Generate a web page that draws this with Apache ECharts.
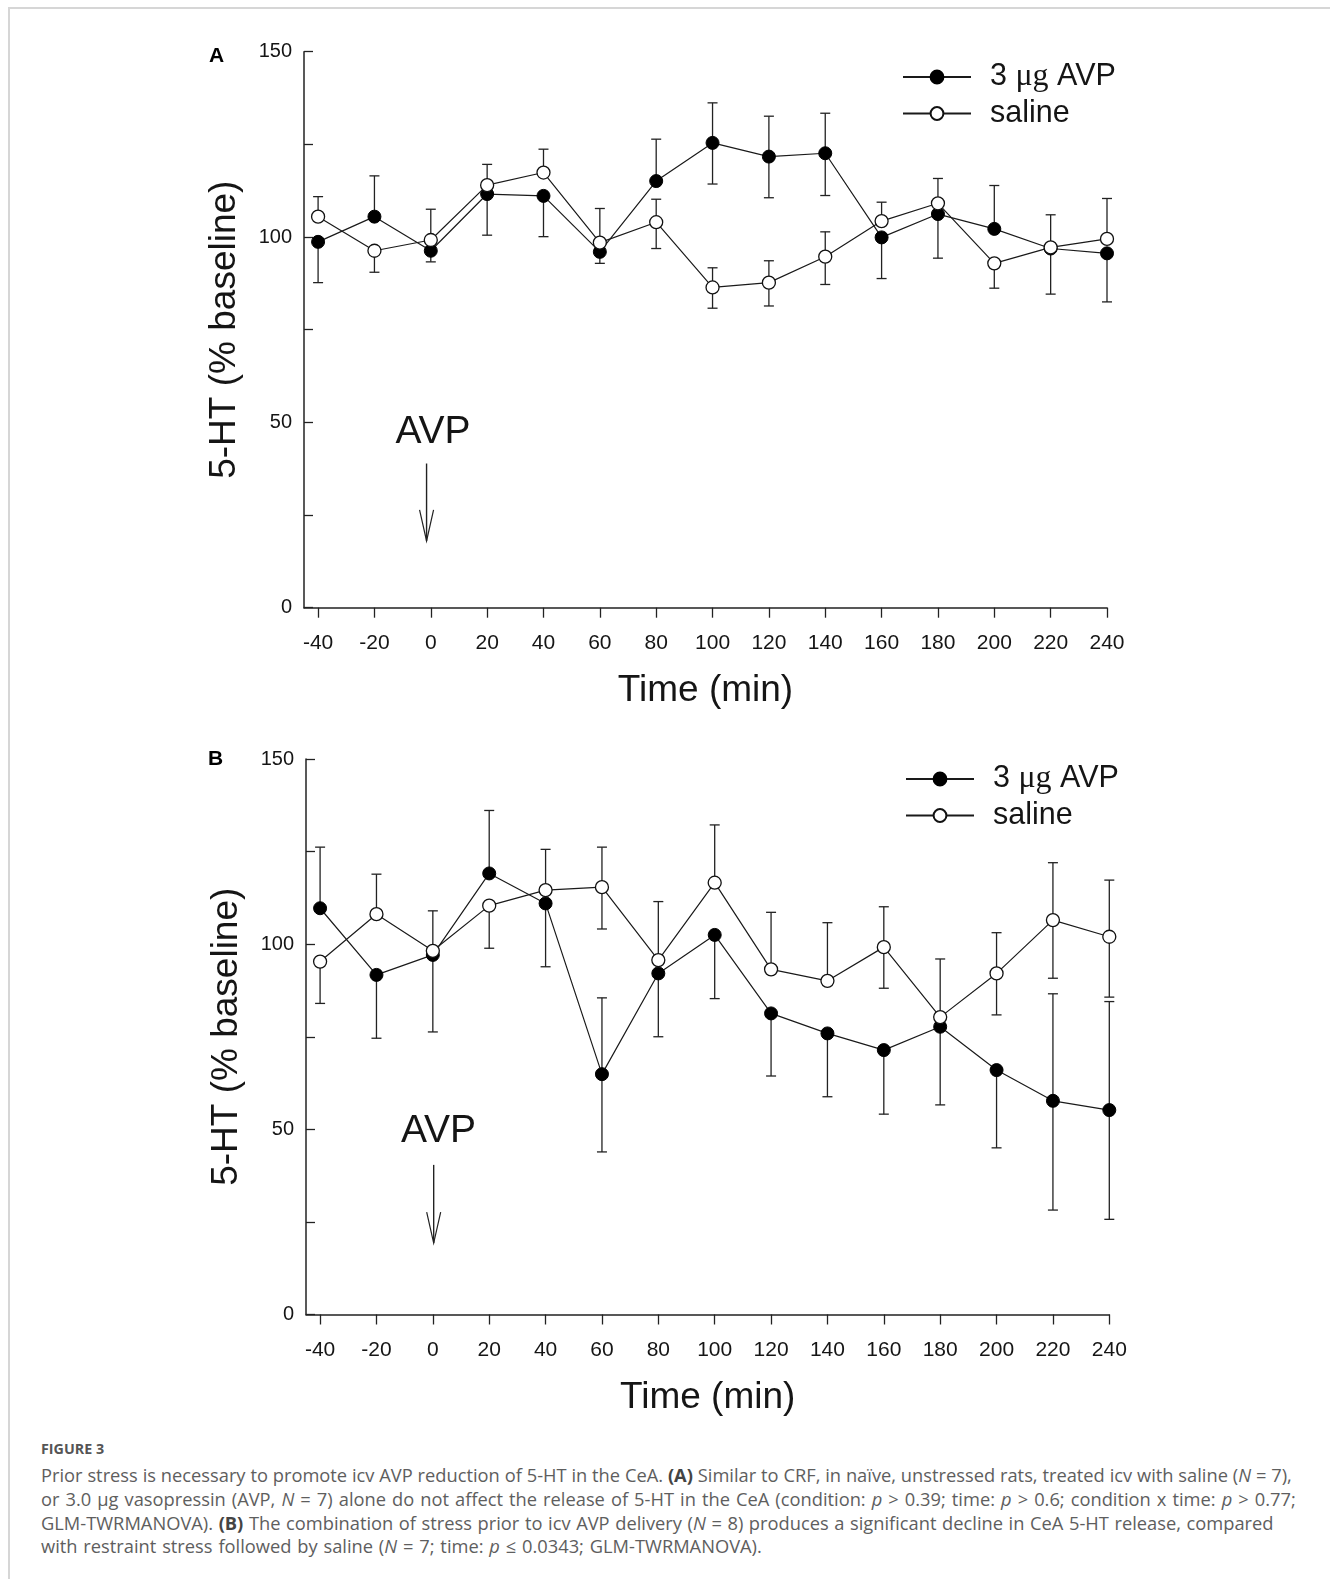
<!DOCTYPE html>
<html><head><meta charset="utf-8">
<script src="https://cdn.jsdelivr.net/npm/echarts@6/dist/echarts.min.js"></script>
<style>
html,body{margin:0;padding:0;background:#fff;}
#frame{position:absolute;left:8px;top:7px;width:1322px;height:1572px;border-top:2px solid #d6d6d6;border-left:2px solid #d6d6d6;box-sizing:border-box;}
#chart{position:absolute;left:0;top:0;width:1330px;height:1420px;}
#figlabel{position:absolute;left:41px;top:1439px;font-family:"Open Sans";font-weight:700;font-size:14.3px;line-height:20px;color:#555;}
#lines{position:absolute;left:41px;top:1463px;font-family:"Open Sans";font-size:18.3px;line-height:23.8px;color:#5e5e5e;white-space:nowrap;}
#lines b{color:#444;}
</style></head>
<body>
<div id="frame"></div>
<div id="chart"></div>
<div id="figlabel">FIGURE 3</div>
<div id="lines">
<div style="word-spacing:0.1px">Prior stress is necessary to promote icv AVP reduction of 5-HT in the CeA. <b>(A)</b> Similar to CRF, in naïve, unstressed rats, treated icv with saline (<i>N</i> = 7),</div>
<div style="word-spacing:1.3px">or 3.0 μg vasopressin (AVP, <i>N</i> = 7) alone do not affect the release of 5-HT in the CeA (condition: <i>p</i> &gt; 0.39; time: <i>p</i> &gt; 0.6; condition x time: <i>p</i> &gt; 0.77;</div>
<div style="word-spacing:0.85px">GLM-TWRMANOVA). <b>(B)</b> The combination of stress prior to icv AVP delivery (<i>N</i> = 8) produces a significant decline in CeA 5-HT release, compared</div>
<div style="word-spacing:1.1px">with restraint stress followed by saline (<i>N</i> = 7; time: <i>p</i> ≤ 0.0343; GLM-TWRMANOVA).</div>
</div>
<script>
// ---- data ----
const timePoints = [-40,-20,0,20,40,60,80,100,120,140,160,180,200,220,240];
const xTickLabels = [-40,-20,0,20,40,60,80,100,120,140,160,180,200,220,240];
const yTickLabels = [0,50,100,150];
const seriesNames = ['3 μg AVP','saline'];

// Panel A
const A_avp         = [98.7,105.5,96.3,111.6,111.1,96.0,115.1,125.4,121.7,122.6,99.9,106.2,102.2,96.9,95.6];
const A_avp_errUp   = [0,11.0,0,0,0,0,11.3,10.8,10.9,10.8,0,0,11.7,0,0];
const A_avp_errDown = [11.0,0,3.0,11.1,11.0,3.1,0,11.1,11.1,11.4,11.1,11.9,0,12.3,13.1];
const A_sal         = [105.5,96.3,99.2,114.0,117.4,98.5,104.0,86.4,87.7,94.7,104.3,109.1,92.9,97.2,99.5];
const A_sal_errUp   = [5.4,0,8.3,5.6,6.3,9.2,6.2,5.3,5.9,6.7,5.1,6.7,0,8.8,10.9];
const A_sal_errDown = [0,5.8,0,0,0,0,7.1,5.6,6.3,7.5,0,0,6.7,0,0];

// Panel B
const B_avp         = [109.7,91.7,97.1,119.1,111.0,64.9,92.1,102.5,81.3,75.9,71.4,77.7,66.0,57.7,55.2];
const B_avp_errUp   = [16.5,0,0,17.0,0,20.6,0,0,0,0,0,0,0,28.9,29.3];
const B_avp_errDown = [0,17.1,20.8,0,17.1,21.0,17.1,17.2,16.9,17.1,17.3,21.1,21.0,29.5,29.5];
const B_sal         = [95.3,108.1,98.2,110.4,114.6,115.4,95.7,116.6,93.2,90.1,99.2,80.3,92.1,106.5,102.0];
const B_sal_errUp   = [0,10.8,10.8,0,11.0,10.8,15.8,15.6,15.4,15.7,10.9,15.7,11.0,15.5,15.3];
const B_sal_errDown = [11.3,0,0,11.5,0,11.3,0,0,0,0,11.1,0,11.2,15.7,16.3];

// AVP annotation: [textX, textY, arrowX, arrowTopY, arrowTipY]
const A_annot = [0.8, 47.3, -1.5, 38.9, 18.0];
const B_annot = [2.0, 49.4, 0.3, 40.4, 19.3];

// ---- chart ----
const FONT = 'Liberation Sans, Arial, sans-serif';
const INK = '#151515';
const chart = echarts.init(document.getElementById('chart'), null, {renderer:'canvas'});

function pts(vals){ return timePoints.map((t,i)=>[t, vals[i]]); }
function errPts(vals, up, down){ return timePoints.map((t,i)=>[t, vals[i], up[i], down[i]]); }

function errRender(params, api){
  const x = api.value(0), y = api.value(1), up = api.value(2), dn = api.value(3);
  const c = api.coord([x, y]);
  const kids = [];
  const st = {stroke:'#222', lineWidth:1.3};
  const cap = 5;
  if (up > 0){
    const t = api.coord([x, y + up]);
    kids.push({type:'line', shape:{x1:c[0],y1:c[1],x2:t[0],y2:t[1]}, style:st});
    kids.push({type:'line', shape:{x1:t[0]-cap,y1:t[1],x2:t[0]+cap,y2:t[1]}, style:st});
  }
  if (dn > 0){
    const b = api.coord([x, y - dn]);
    kids.push({type:'line', shape:{x1:c[0],y1:c[1],x2:b[0],y2:b[1]}, style:st});
    kids.push({type:'line', shape:{x1:b[0]-cap,y1:b[1],x2:b[0]+cap,y2:b[1]}, style:st});
  }
  return {type:'group', children:kids};
}

function annotRender(params, api){
  const tx = api.value(0), ty = api.value(1), ax = api.value(2), atop = api.value(3), atip = api.value(4);
  const tc = api.coord([tx, ty]);
  const p1 = api.coord([ax, atop]);
  const p2 = api.coord([ax, atip]);
  const st = {stroke:'#222', lineWidth:1.4};
  return {type:'group', children:[
    {type:'text', x:tc[0], y:tc[1], style:{text:'AVP', font:'39px ' + FONT, fill:INK, align:'center', verticalAlign:'middle'}},
    {type:'line', shape:{x1:p1[0],y1:p1[1],x2:p2[0],y2:p2[1]}, style:st},
    {type:'polyline', shape:{points:[[p2[0]-7,p2[1]-31],[p2[0],p2[1]],[p2[0]+7,p2[1]-31]]}, style:{stroke:'#222', lineWidth:1.2, fill:null}}
  ]};
}

function xAxisCfg(gi){
  return {
    type:'value', gridIndex:gi, min:-45, max:240,
    axisLine:{show:true, onZero:false, lineStyle:{color:'#222', width:1.5}},
    axisTick:{show:true, customValues:xTickLabels, length:10, inside:false, lineStyle:{color:'#222', width:1.3}},
    axisLabel:{customValues:xTickLabels, margin:25, fontSize:21, fontFamily:FONT, color:INK},
    splitLine:{show:false},
    name:'Time (min)', nameLocation:'middle', nameGap:65,
    nameTextStyle:{fontSize:37, fontFamily:FONT, color:INK}
  };
}
function yAxisCfg(gi){
  return {
    type:'value', gridIndex:gi, min:0, max:150, interval:25,
    axisLine:{show:true, onZero:false, lineStyle:{color:'#222', width:1.5}},
    axisTick:{show:true, inside:true, length:9, lineStyle:{color:'#222', width:1.3}},
    axisLabel:{customValues:yTickLabels, margin:12, fontSize:20, fontFamily:FONT, color:INK},
    splitLine:{show:false},
    name:'5-HT (% baseline)', nameLocation:'middle', nameGap:61, nameRotate:90,
    nameTextStyle:{fontSize:37, fontFamily:FONT, color:INK}
  };
}
function lineSeries(name, vals, gi, filled){
  return {
    type:'line', name:name, xAxisIndex:gi, yAxisIndex:gi, data:pts(vals),
    symbol:'circle', symbolSize:13, showAllSymbol:true,
    lineStyle:{color:'#1a1a1a', width:1.2},
    itemStyle: filled ? {color:'#000', borderColor:'#000', borderWidth:1}
                      : {color:'#fff', borderColor:'#111', borderWidth:1.3},
    z: filled ? 3 : 4, emphasis:{disabled:true}, animation:false
  };
}
function errSeries(id, vals, up, dn, gi){
  return {type:'custom', name:id, xAxisIndex:gi, yAxisIndex:gi, data:errPts(vals, up, dn),
          renderItem:errRender, z:2, silent:true, animation:false, clip:false};
}
function legendCfg(left, top){
  return {
    data:seriesNames, left:left, top:top, orient:'vertical',
    itemWidth:68, itemHeight:16, itemGap:5, selectedMode:false,
    formatter: n => n === '3 μg AVP' ? '3 {s|μg} AVP' : n,
    textStyle:{fontSize:30.5, fontFamily:FONT, color:INK, lineHeight:30, padding:[0,0,0,14],
      rich:{s:{fontSize:32, fontFamily:'Liberation Serif, Times New Roman, serif', color:INK, lineHeight:30}}}
  };
}

const option = {
  animation:false,
  backgroundColor:'transparent',
  grid:[
    {left:304, top:51.7, width:803, height:556},
    {left:306, top:759, width:803.3, height:555.5}
  ],
  xAxis:[xAxisCfg(0), xAxisCfg(1)],
  yAxis:[yAxisCfg(0), yAxisCfg(1)],
  legend:[legendCfg(897, 56), legendCfg(900, 758)],
  graphic:[
    {type:'text', left:209, top:46, style:{text:'A', font:'bold 21px ' + FONT, fill:'#000'}},
    {type:'text', left:208, top:749, style:{text:'B', font:'bold 21px ' + FONT, fill:'#000'}}
  ],
  series:[
    errSeries('errA_avp', A_avp, A_avp_errUp, A_avp_errDown, 0),
    errSeries('errA_sal', A_sal, A_sal_errUp, A_sal_errDown, 0),
    lineSeries(seriesNames[0], A_avp, 0, true),
    lineSeries(seriesNames[1], A_sal, 0, false),
    {type:'custom', name:'annotA', xAxisIndex:0, yAxisIndex:0, data:[A_annot], renderItem:annotRender, silent:true, clip:false, z:5},
    errSeries('errB_avp', B_avp, B_avp_errUp, B_avp_errDown, 1),
    errSeries('errB_sal', B_sal, B_sal_errUp, B_sal_errDown, 1),
    lineSeries(seriesNames[0], B_avp, 1, true),
    lineSeries(seriesNames[1], B_sal, 1, false),
    {type:'custom', name:'annotB', xAxisIndex:1, yAxisIndex:1, data:[B_annot], renderItem:annotRender, silent:true, clip:false, z:5}
  ]
};
chart.setOption(option);
</script>
</body></html>
